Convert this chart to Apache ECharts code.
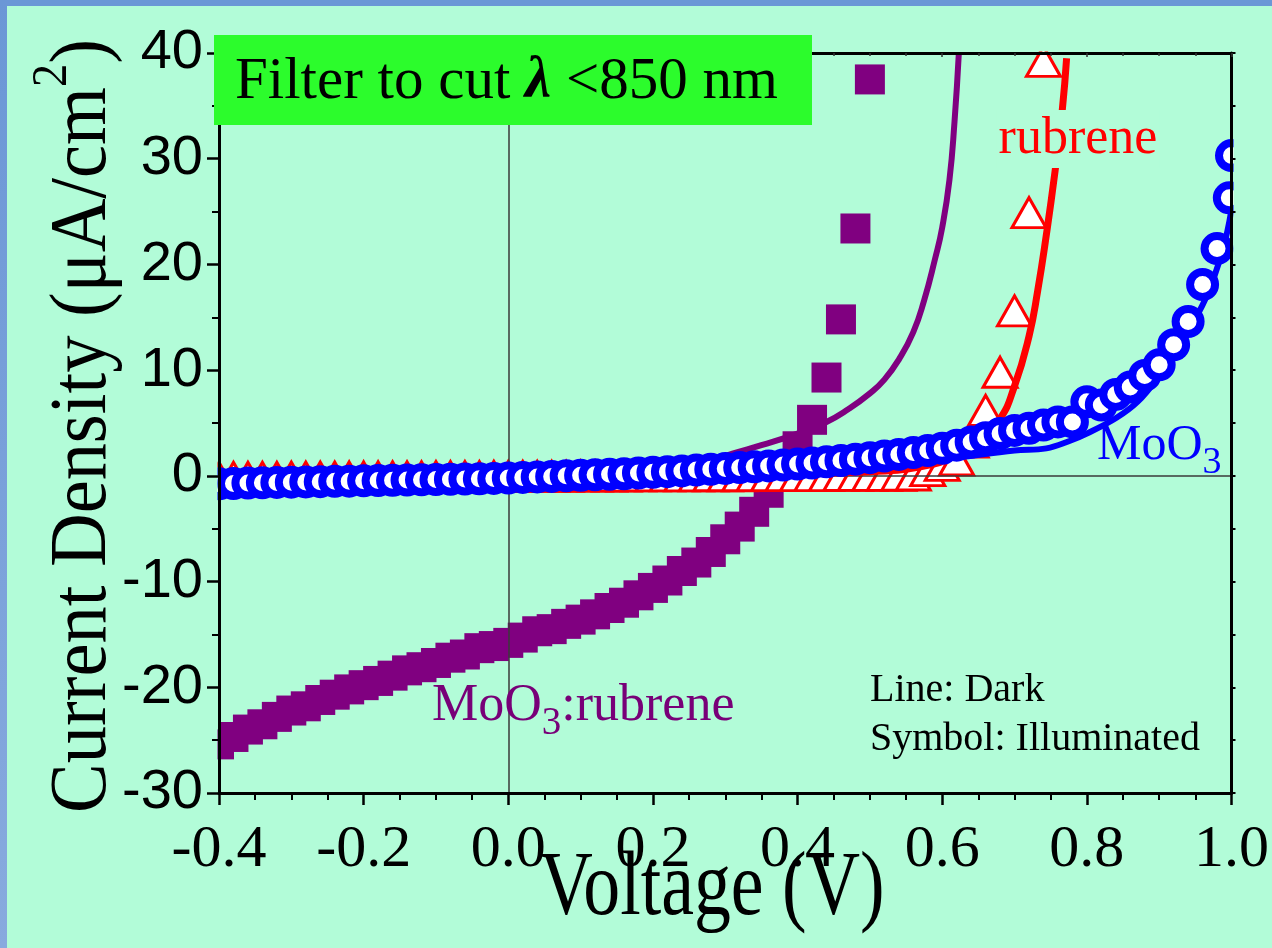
<!DOCTYPE html>
<html><head><meta charset="utf-8">
<script src="https://cdn.jsdelivr.net/npm/echarts@6/dist/echarts.min.js"></script>
<style>
html,body{margin:0;padding:0;background:#b2fcd8;overflow:hidden;}
#wrap{position:relative;width:1272px;height:948px;}
#chart{position:absolute;left:0;top:0;width:1272px;height:948px;}
.bt{position:absolute;left:0;top:0;width:1272px;height:6px;background:#6b97d6;}
.bl{position:absolute;left:0;top:0;width:7px;height:948px;background:linear-gradient(#6b97d6,#88aade);}
</style></head><body>
<div id="wrap"><div id="chart"></div><div class="bt"></div><div class="bl"></div></div>
<script>
// ---------- data ----------
const xTickLabels = ['-0.4','-0.2','0.0','0.2','0.4','0.6','0.8','1.0'];
const yTickLabels = ['-30','-20','-10','0','10','20','30','40'];

// MoO3:rubrene, illuminated (squares)
const mrIllumV = [-0.40,-0.38,-0.36,-0.34,-0.32,-0.30,-0.28,-0.26,-0.24,-0.22,-0.20,-0.18,-0.16,-0.14,-0.12,-0.10,-0.08,-0.06,-0.04,-0.02,
  0.00,0.02,0.04,0.06,0.08,0.10,0.12,0.14,0.16,0.18,0.20,0.22,0.24,0.26,0.28,0.30,0.32,0.34,0.36,0.38,0.40,0.42,0.44,0.46,0.48,0.50];
const mrIllumJ = [-25.4,-24.7,-24.0,-23.5,-22.8,-22.2,-21.8,-21.2,-20.7,-20.2,-19.8,-19.4,-18.9,-18.4,-18.1,-17.7,-17.2,-16.9,-16.3,-16.1,
  -15.8,-15.3,-14.7,-14.5,-14.0,-13.6,-13.1,-12.5,-12.0,-11.3,-10.6,-9.9,-9.0,-8.2,-7.2,-6.0,-4.8,-3.4,-1.6,0.4,2.8,5.3,9.3,14.8,23.4,37.5];

// MoO3:rubrene, dark (line)
const mrDarkV = [-0.40,-0.20,0.00,0.10,0.20,0.25,0.28,0.31,0.35,0.40,0.44,0.47,0.50,0.52,0.54,0.56,0.575,0.59,0.60,0.61,0.617,0.623];
const mrDarkJ = [-0.4,-0.2,0.0,0.15,0.5,0.9,1.4,2.1,2.9,4.0,5.1,6.3,7.8,9.1,11.0,13.6,16.6,20.5,23.5,28.0,33.5,40.0];

// rubrene, illuminated (triangles)
const rbIllumV = [-0.40,-0.38,-0.36,-0.34,-0.32,-0.30,-0.28,-0.26,-0.24,-0.22,-0.20,-0.18,-0.16,-0.14,-0.12,-0.10,-0.08,-0.06,-0.04,-0.02,
  0.00,0.02,0.04,0.06,0.08,0.10,0.12,0.14,0.16,0.18,0.20,0.22,0.24,0.26,0.28,0.30,0.32,0.34,0.36,0.38,0.40,0.42,0.44,0.46,0.48,0.50,
  0.52,0.54,0.56,0.58,0.60,0.62,0.64,0.66,0.68,0.70,0.72,0.74];
const rbIllumJ = [-0.15,-0.15,-0.15,-0.14,-0.14,-0.13,-0.13,-0.12,-0.12,-0.11,-0.11,-0.10,-0.10,-0.09,-0.09,-0.08,-0.08,-0.07,-0.07,-0.06,
  -0.06,-0.05,-0.05,-0.04,-0.04,-0.03,-0.03,-0.02,-0.02,-0.01,-0.01,0.00,0.00,0.00,0.01,0.01,0.01,0.02,0.02,0.02,0.03,0.03,0.03,0.04,0.04,0.05,
  0.05,0.06,0.08,0.5,1.0,1.5,3.2,6.2,9.8,15.6,24.9,39.2];

// rubrene, dark (line)
const rbDarkV = [-0.40,0.00,0.30,0.50,0.58,0.62,0.65,0.679,0.70,0.72,0.732,0.744,0.756,0.766,0.772];
const rbDarkJ = [-0.3,-0.1,0.1,0.4,1.0,2.0,3.3,5.3,8.5,13.2,17.5,22.8,28.8,34.6,39.5];

// MoO3, illuminated (circles)
const moIllumV = [-0.40,-0.38,-0.36,-0.34,-0.32,-0.30,-0.28,-0.26,-0.24,-0.22,-0.20,-0.18,-0.16,-0.14,-0.12,-0.10,-0.08,-0.06,-0.04,-0.02,
  0.00,0.02,0.04,0.06,0.08,0.10,0.12,0.14,0.16,0.18,0.20,0.22,0.24,0.26,0.28,0.30,0.32,0.34,0.36,0.38,0.40,0.42,0.44,0.46,0.48,0.50,
  0.52,0.54,0.56,0.58,0.60,0.62,0.64,0.66,0.68,0.70,0.72,0.74,0.76,0.78,0.80,0.82,0.84,0.86,0.88,0.90,0.92,0.94,0.96,0.98,0.997,1.00];
const moIllumJ = [-0.75,-0.72,-0.68,-0.66,-0.62,-0.60,-0.57,-0.55,-0.52,-0.50,-0.47,-0.45,-0.42,-0.40,-0.37,-0.35,-0.32,-0.30,-0.27,-0.24,
  -0.2,-0.15,-0.1,-0.05,0.0,0.05,0.1,0.15,0.2,0.27,0.33,0.4,0.47,0.55,0.62,0.7,0.78,0.86,0.94,1.03,1.12,1.22,1.33,1.45,1.58,1.72,
  1.87,2.03,2.2,2.4,2.6,2.9,3.2,3.6,4.0,4.3,4.5,4.8,5.1,5.1,7.0,6.7,7.7,8.4,9.5,10.5,12.4,14.6,18.1,21.5,26.3,30.3];

// MoO3, dark (line)
const moDarkV = [-0.40,-0.20,0.00,0.20,0.40,0.50,0.60,0.70,0.744,0.776,0.80,0.841,0.87,0.896,0.933,0.965,0.988,1.00];
const moDarkJ = [-0.6,-0.35,-0.1,0.3,0.8,1.2,1.6,2.4,2.6,3.3,4.0,5.5,7.0,9.1,12.9,16.9,21.4,25.2];

// ---------- chart ----------
const zip = (a, b) => a.map((v, i) => [v, b[i]]);
const BG = '#b2fcd8';
const chart = echarts.init(document.getElementById('chart'), null, {renderer: 'canvas'});
const serif = 'Liberation Serif, Times New Roman, serif';
const sans = 'Liberation Sans, Arial, sans-serif';

const option = {
  animation: false,
  backgroundColor: BG,
  grid: {left: 219, right: 40, top: 53, bottom: 155},
  xAxis: [{
    type: 'value', min: -0.4, max: 1.0, interval: 0.2, position: 'bottom', z: 10,
    axisLine: {onZero: false, lineStyle: {color: '#000', width: 3}},
    axisTick: {length: 12, lineStyle: {color: '#000', width: 2.5}},
    minorTick: {show: true, splitNumber: 4, length: 7, lineStyle: {color: '#000', width: 2}},
    splitLine: {show: false},
    axisLabel: {fontFamily: serif, fontSize: 60, color: '#000', margin: 27,
      formatter: v => xTickLabels[Math.round((v + 0.4) / 0.2)]}
  }, {
    type: 'value', min: -0.4, max: 1.0, interval: 0.2, position: 'top', z: 10,
    axisLine: {onZero: false, lineStyle: {color: '#000', width: 3}},
    axisTick: {inside: true, length: 4, lineStyle: {color: '#333', width: 1.5}},
    minorTick: {show: true, splitNumber: 4, length: 3, lineStyle: {color: '#333', width: 1.5}},
    splitLine: {show: false}, axisLabel: {show: false}
  }],
  yAxis: [{
    type: 'value', min: -30, max: 40, interval: 10, position: 'left', z: 10,
    axisLine: {onZero: false, lineStyle: {color: '#000', width: 3}},
    axisTick: {length: 12, lineStyle: {color: '#000', width: 2.5}},
    minorTick: {show: true, splitNumber: 2, length: 7, lineStyle: {color: '#000', width: 2}},
    splitLine: {show: false},
    axisLabel: {fontFamily: sans, fontSize: 56, color: '#000', margin: 16,
      formatter: v => yTickLabels[Math.round((v + 30) / 10)]}
  }, {
    type: 'value', min: -30, max: 40, interval: 10, position: 'right', z: 10,
    axisLine: {onZero: false, lineStyle: {color: '#000', width: 3}},
    axisTick: {length: 4, lineStyle: {color: '#000', width: 2}},
    minorTick: {show: true, splitNumber: 2, length: 4, lineStyle: {color: '#000', width: 2}},
    splitLine: {show: false}, axisLabel: {show: false}
  }],
  series: [
    {type: 'scatter', name: 'MoO3:rubrene illuminated', data: zip(mrIllumV, mrIllumJ),
      symbol: 'rect', symbolSize: 30, itemStyle: {color: '#800080', opacity: 1}, z: 2, silent: true},
    {type: 'line', name: 'MoO3:rubrene dark', data: zip(mrDarkV, mrDarkJ), symbol: 'none',
      smooth: 0.5, lineStyle: {color: '#800080', width: 6}, z: 3, silent: true},
    {type: 'scatter', name: 'rubrene illuminated', data: zip(rbIllumV, rbIllumJ),
      symbol: 'triangle', symbolSize: [34, 30],
      itemStyle: {color: '#ffffff', borderColor: '#ff0000', borderWidth: 3, opacity: 1}, z: 4, silent: true},
    {type: 'line', name: 'rubrene dark', data: zip(rbDarkV, rbDarkJ), symbol: 'none',
      smooth: 0.5, lineStyle: {color: '#ff0000', width: 7}, z: 5, silent: true},
    {type: 'line', name: 'MoO3 dark', data: zip(moDarkV, moDarkJ), symbol: 'none',
      smooth: 0.4, lineStyle: {color: '#0000ff', width: 6}, z: 6, silent: true},
    {type: 'scatter', name: 'MoO3 illuminated', data: zip(moIllumV, moIllumJ),
      symbol: 'circle', symbolSize: 25,
      itemStyle: {color: '#ffffff', borderColor: '#0000ff', borderWidth: 8, opacity: 1}, z: 7, silent: true},
    {type: 'line', name: 'zero lines', data: [], z: 8, silent: true,
      markLine: {silent: true, symbol: 'none', label: {show: false},
        lineStyle: {color: '#3a3a3a', width: 1.5, type: 'solid'},
        data: [{xAxis: 0}, {yAxis: 0}]}}
  ],
  graphic: {elements: [
    // clip masks (scatter symbols are not clipped by the grid)
    {type: 'rect', z: 9, shape: {x: 150, y: 40, width: 67.5, height: 770}, style: {fill: BG}},
    {type: 'rect', z: 9, shape: {x: 1233.5, y: 0, width: 40, height: 948}, style: {fill: BG}},
    {type: 'rect', z: 9, shape: {x: 219, y: 0, width: 1060, height: 51.5}, style: {fill: BG}},
    // green filter box
    {type: 'rect', z: 20, shape: {x: 214, y: 35, width: 598, height: 90}, style: {fill: '#2cfc2c'}},
    {type: 'text', z: 21, x: 235, y: 82, style: {
      text: 'Filter to cut {l|λ} <850 nm', fill: '#000', fontFamily: serif, fontSize: 59,
      align: 'left', verticalAlign: 'middle',
      rich: {l: {fontWeight: 'bold', fontStyle: 'italic', fontSize: 59, fontFamily: serif}}}},
    // series labels
    {type: 'text', z: 21, x: 1078, y: 139, style: {
      text: 'rubrene', fill: '#ff0000', fontFamily: serif, fontSize: 52, lineHeight: 58,
      align: 'center', verticalAlign: 'middle', backgroundColor: BG, padding: [0, 2]}},
    {type: 'text', z: 21, x: 1097, y: 446, style: {
      text: 'MoO{s|3}', fill: '#0000ff', fontFamily: serif, fontSize: 50, lineHeight: 72,
      align: 'left', verticalAlign: 'middle',
      rich: {s: {fontSize: 38, lineHeight: 38, verticalAlign: 'bottom', fontFamily: serif}}}},
    {type: 'text', z: 7, x: 432, y: 706, style: {
      text: 'MoO{s|3}:rubrene', fill: '#780078', fontFamily: serif, fontSize: 52, lineHeight: 74,
      align: 'left', verticalAlign: 'middle',
      rich: {s: {fontSize: 39, lineHeight: 39, verticalAlign: 'bottom', fontFamily: serif}}}},
    {type: 'text', z: 21, x: 870, y: 690, style: {
      text: 'Line: Dark', fill: '#000', fontFamily: serif, fontSize: 40, align: 'left', verticalAlign: 'middle'}},
    {type: 'text', z: 21, x: 870, y: 739, style: {
      text: 'Symbol: Illuminated', fill: '#000', fontFamily: serif, fontSize: 40, align: 'left', verticalAlign: 'middle'}},
    // axis titles
    {type: 'text', z: 21, x: 84, y: 426, rotation: Math.PI / 2, scaleX: 0.93, style: {
      text: 'Current Density (μA/cm{s|2})', fill: '#000', fontFamily: serif, fontSize: 80, lineHeight: 112,
      align: 'center', verticalAlign: 'middle',
      rich: {s: {fontSize: 50, lineHeight: 50, verticalAlign: 'top', fontFamily: serif}}}},
    {type: 'text', z: 21, x: 712, y: 890, scaleX: 0.82, style: {
      text: 'Voltage (V)', fill: '#000', fontFamily: serif, fontSize: 90,
      align: 'center', verticalAlign: 'middle'}}
  ]}
};
chart.setOption(option);
</script>
</body></html>
